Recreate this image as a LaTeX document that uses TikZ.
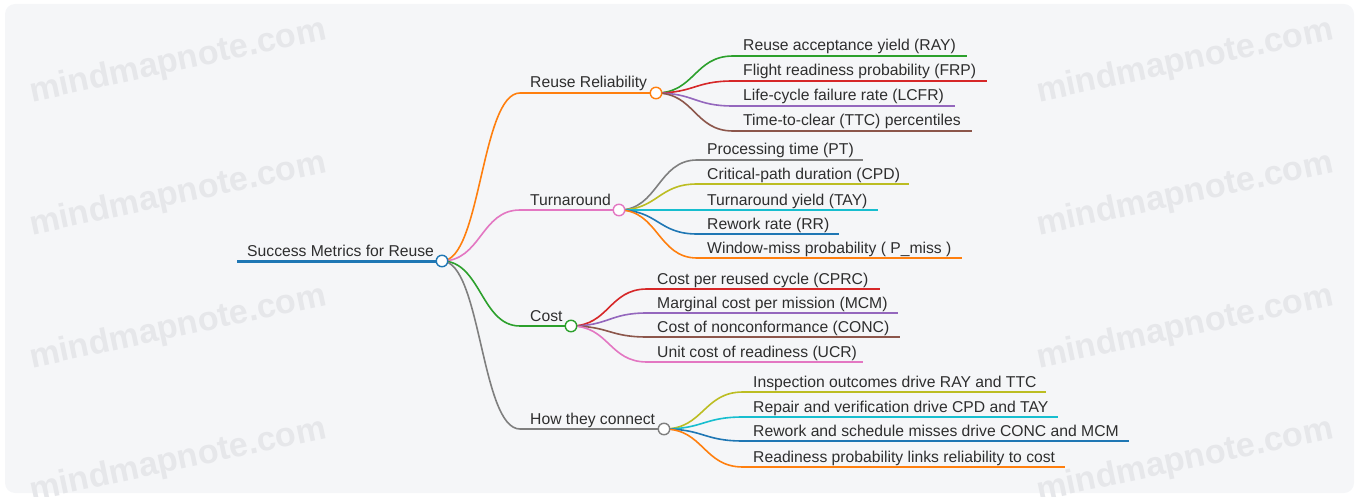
\documentclass[tikz,border=0pt]{standalone}
\usepackage{fontspec}
\setmainfont{Liberation Sans}
\newfontfamily\wmfont{Liberation Sans Bold}
\usetikzlibrary{calc}

% d3 category colours
\definecolor{cBlue}{HTML}{1F77B4}
\definecolor{cOrange}{HTML}{FF7F0E}
\definecolor{cGreen}{HTML}{2CA02C}
\definecolor{cRed}{HTML}{D62728}
\definecolor{cPurple}{HTML}{9467BD}
\definecolor{cBrown}{HTML}{8C564B}
\definecolor{cPink}{HTML}{E377C2}
\definecolor{cGray}{HTML}{7F7F7F}
\definecolor{cOlive}{HTML}{BCBD22}
\definecolor{cCyan}{HTML}{17BECF}
\definecolor{paper}{HTML}{F5F6F8}
\definecolor{ink}{HTML}{2E2E2E}
\definecolor{wmark}{HTML}{E6E7EA}

\pgfdeclarelayer{links}
\pgfsetlayers{links,main}

\tikzset{
  lbl/.style={font=\fontsize{15.7}{18}\selectfont, text=ink, inner sep=0pt, anchor=base west},
  uline/.style={line width=2pt},
  rootline/.style={line width=3pt},
  conn/.style={line width=1.6pt},
  dot/.style={circle, fill=white, line width=1.4pt, minimum size=11.5pt, inner sep=0pt},
  wm/.style={font=\wmfont\fontsize{34}{36}\selectfont, text=wmark, rotate=12, inner sep=0pt},
}

% one leaf: name, colour, start x, end x, y, text
\newcommand\leafitem[6]{%
  \coordinate (#1) at (#3,#5);
  \draw[uline, #2] (#1) -- (#4,#5);
  \node[lbl] (#1-t) at (#3+10,#5-5) {#6};
}
% curved connector from a parent dot to a child start point
\newcommand\linkto[3]{%
  \begin{pgfonlayer}{links}
  \draw[conn, #3] let \p1=(#1.center), \p2=(#2) in
    (\p1) .. controls ({0.5*\x1+0.5*\x2},\y1) and ({0.5*\x1+0.5*\x2},\y2) .. (\p2);
  \end{pgfonlayer}
}

\begin{document}
\begin{tikzpicture}[x=1pt, y=-1pt]
\useasboundingbox (0,0) rectangle (1359,497);
\begin{pgfonlayer}{links}
\fill[paper, rounded corners=10pt] (5,4) rectangle (1354,493);
% watermark
\foreach \yy in {62,195,328,461}{
  \node[wm] at (178,\yy) {mindmapnote.com};
  \node[wm] at (1185,\yy) {mindmapnote.com};
}
\end{pgfonlayer}

% root
\coordinate (root-s) at (237,261);
\draw[rootline, cBlue] (root-s) -- (442,261);
\node[lbl] (root-t) at (247,256) {Success Metrics for Reuse};

% first-level branches
\coordinate (rel) at (520,93);
\coordinate (turn) at (520,210);
\coordinate (cost) at (520,326);
\coordinate (how) at (520,429);
\draw[uline, cOrange] (rel) -- (656,93);
\draw[uline, cPink] (turn) -- (619,210);
\draw[uline, cGreen] (cost) -- (571,326);
\draw[uline, cGray] (how) -- (664,429);
\node[lbl] (rel-t) at (530,88) {Reuse Reliability};
\node[lbl] (turn-t) at (530,205) {Turnaround};
\node[lbl] (cost-t) at (530,321) {Cost};
\node[lbl] (how-t) at (530,424) {How they connect};

% dots
\node[dot, draw=cBlue] (root) at (442,261) {};
\node[dot, draw=cOrange] (reld) at (656,93) {};
\node[dot, draw=cPink] (turnd) at (619,210) {};
\node[dot, draw=cGreen] (costd) at (571,326) {};
\node[dot, draw=cGray] (howd) at (664,429) {};

% leaves
\leafitem{ray}{cGreen}{733}{967}{56}{Reuse acceptance yield (RAY)}
\leafitem{frp}{cRed}{733}{987}{81}{Flight readiness probability (FRP)}
\leafitem{lcfr}{cPurple}{733}{955}{106}{Life-cycle failure rate (LCFR)}
\leafitem{ttc}{cBrown}{733}{972}{131}{Time-to-clear (TTC) percentiles}

\leafitem{pt}{cGray}{697}{863}{160}{Processing time (PT)}
\leafitem{cpd}{cOlive}{697}{909}{184}{Critical-path duration (CPD)}
\leafitem{tay}{cCyan}{697}{878}{210}{Turnaround yield (TAY)}
\leafitem{rr}{cBlue}{697}{839}{234}{Rework rate (RR)}
\leafitem{pmiss}{cOrange}{697}{962}{258}{Window-miss probability ( P\_miss )}

\leafitem{cprc}{cRed}{647}{880}{289}{Cost per reused cycle (CPRC)}
\leafitem{mcm}{cPurple}{647}{898}{313}{Marginal cost per mission (MCM)}
\leafitem{conc}{cBrown}{647}{900}{337}{Cost of nonconformance (CONC)}
\leafitem{ucr}{cPink}{647}{863}{362}{Unit cost of readiness (UCR)}

\leafitem{insp}{cOlive}{743}{1046}{392}{Inspection outcomes drive RAY and TTC}
\leafitem{rep}{cCyan}{743}{1058}{417}{Repair and verification drive CPD and TAY}
\leafitem{rew}{cBlue}{743}{1129}{441}{Rework and schedule misses drive CONC and MCM}
\leafitem{rdy}{cOrange}{743}{1065}{467}{Readiness probability links reliability to cost}

% connectors, kept beneath the dots
\linkto{root}{rel}{cOrange}
\linkto{root}{turn}{cPink}
\linkto{root}{cost}{cGreen}
\linkto{root}{how}{cGray}
\linkto{reld}{ray}{cGreen}
\linkto{reld}{frp}{cRed}
\linkto{reld}{lcfr}{cPurple}
\linkto{reld}{ttc}{cBrown}
\linkto{turnd}{pt}{cGray}
\linkto{turnd}{cpd}{cOlive}
\linkto{turnd}{tay}{cCyan}
\linkto{turnd}{rr}{cBlue}
\linkto{turnd}{pmiss}{cOrange}
\linkto{costd}{cprc}{cRed}
\linkto{costd}{mcm}{cPurple}
\linkto{costd}{conc}{cBrown}
\linkto{costd}{ucr}{cPink}
\linkto{howd}{insp}{cOlive}
\linkto{howd}{rep}{cCyan}
\linkto{howd}{rew}{cBlue}
\linkto{howd}{rdy}{cOrange}
\end{tikzpicture}
\end{document}
